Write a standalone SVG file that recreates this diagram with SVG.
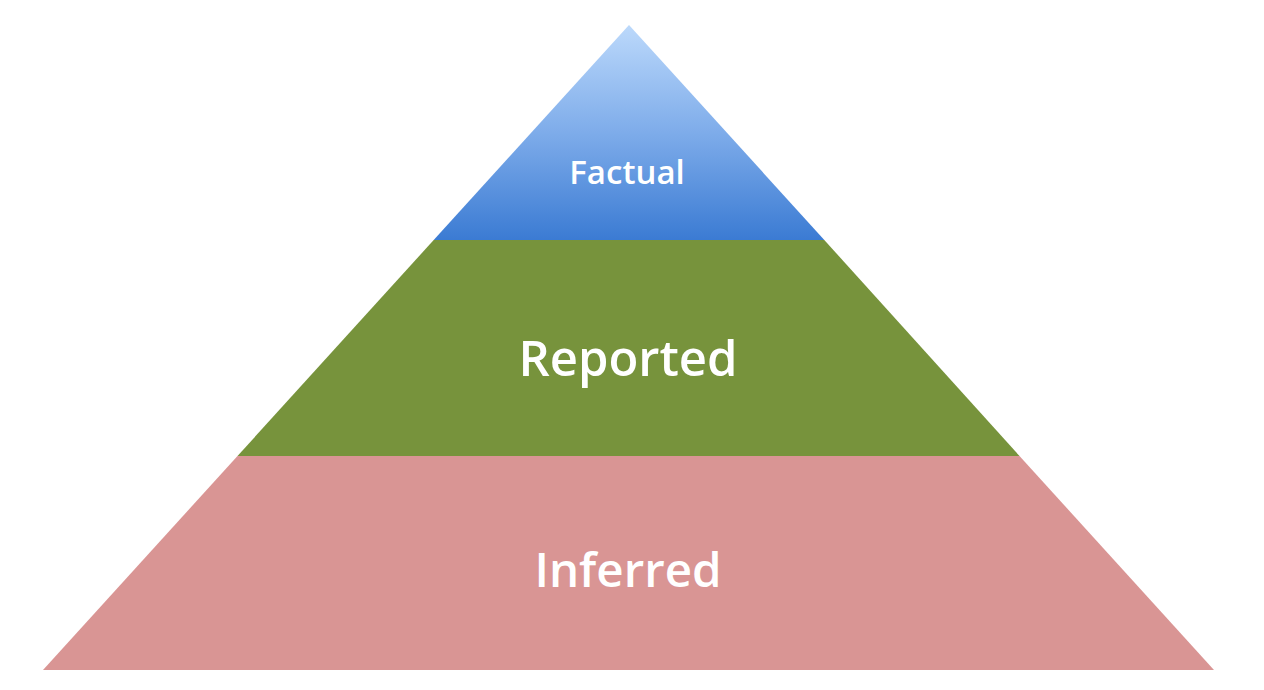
<svg xmlns="http://www.w3.org/2000/svg" width="1264" height="690" viewBox="0 0 1264 690">
<defs>
<linearGradient id="blueGrad" x1="0" y1="25" x2="0" y2="240" gradientUnits="userSpaceOnUse">
<stop offset="0" stop-color="#bcd9fb"/>
<stop offset="0.5" stop-color="#7eacea"/>
<stop offset="1" stop-color="#3b7bd3"/>
</linearGradient>
</defs>
<style>
.lbl{font-family:"Open Sans","Liberation Sans",sans-serif;font-weight:600;fill:#ffffff;text-anchor:middle}
</style>
<rect width="1264" height="690" fill="#ffffff"/>
<g id="factual">
<polygon points="629,25 433.7,240 824.3,240" fill="url(#blueGrad)"/>
<text class="lbl" x="627" y="184" font-size="33">Factual</text>
</g>
<g id="reported">
<polygon points="433.7,240 824.3,240 1019.5,456 237.5,456" fill="#77933c"/>
<text class="lbl" x="628" y="376" font-size="49">Reported</text>
</g>
<g id="inferred">
<polygon points="237.5,456 1019.5,456 1214,670 43,670" fill="#d99594"/>
<text class="lbl" x="628" y="587" font-size="47.5">Inferred</text>
</g>
</svg>
